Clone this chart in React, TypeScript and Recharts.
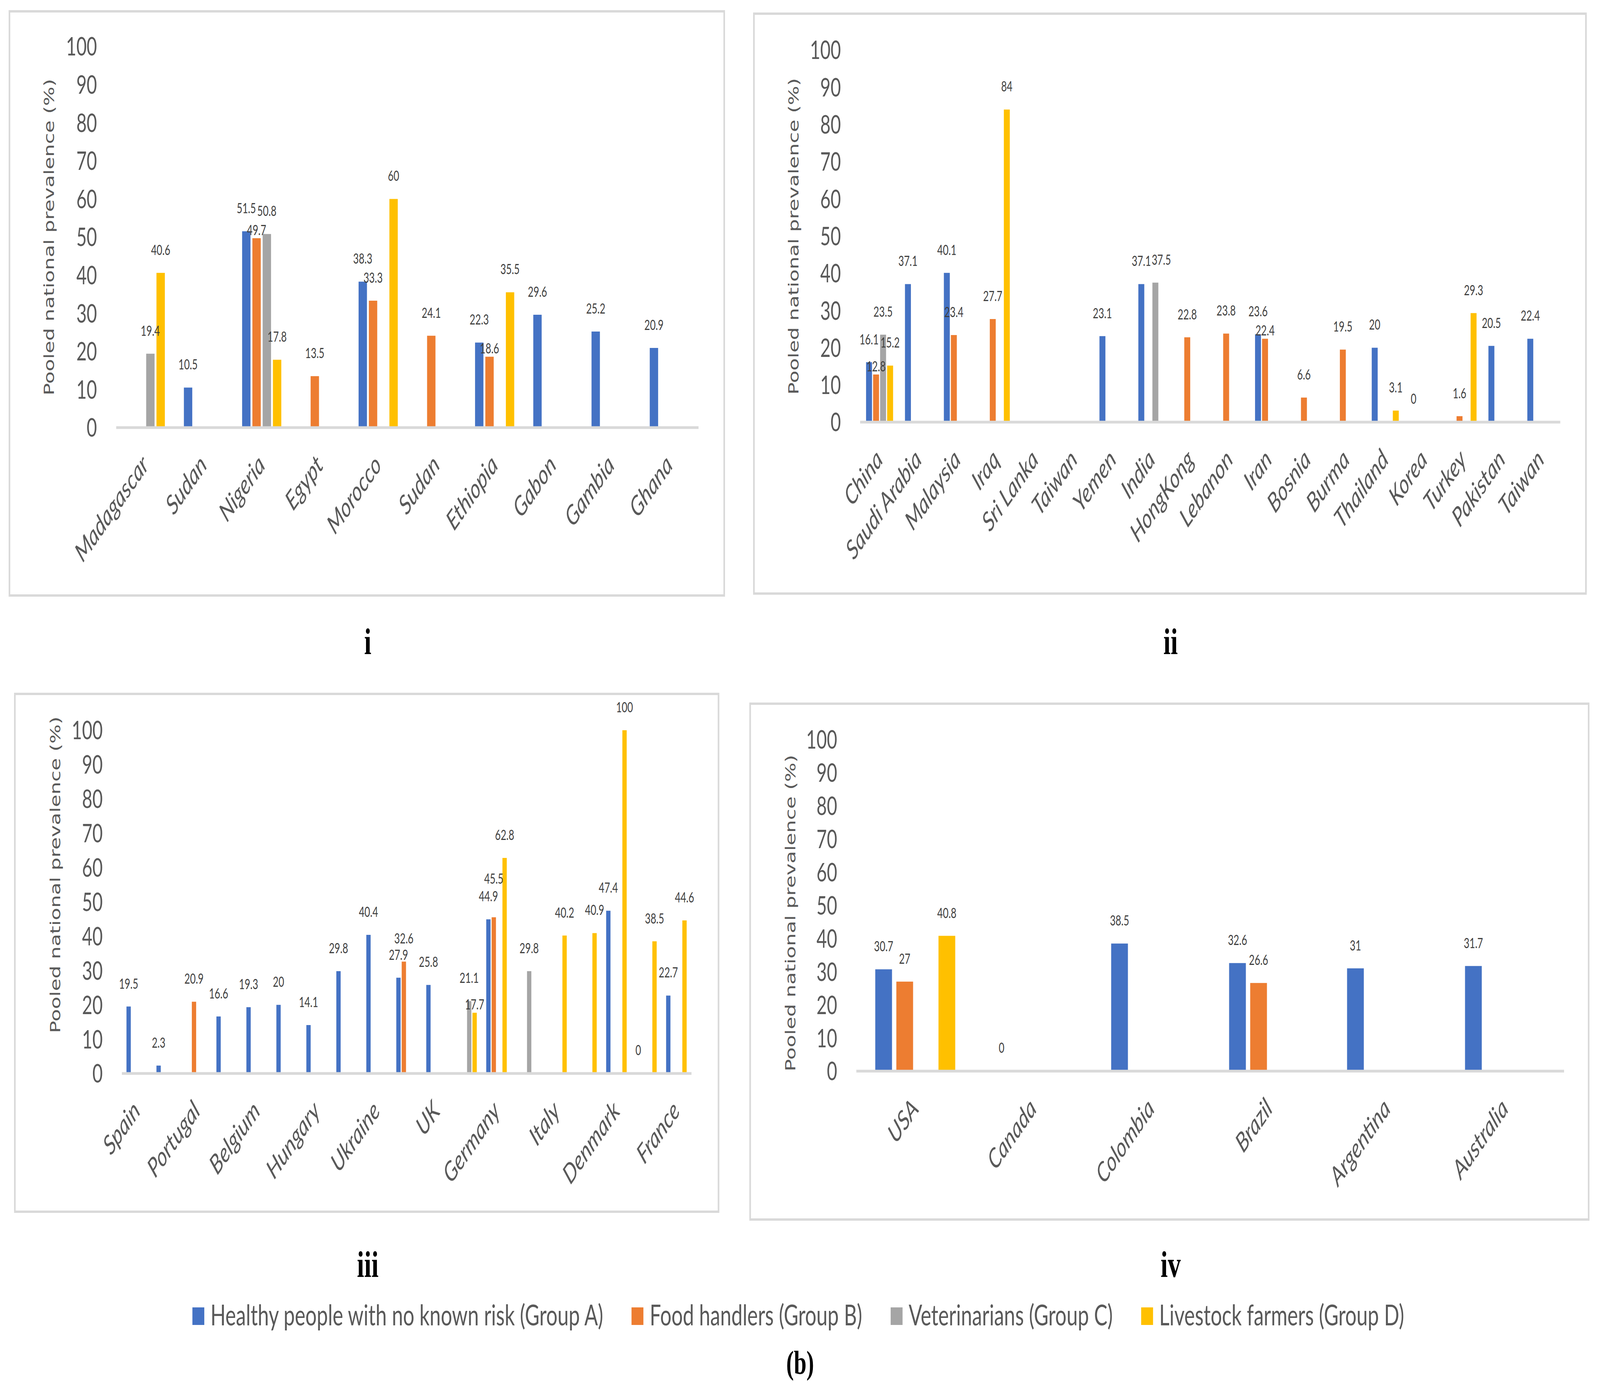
import React from 'react';
import { BarChart, Bar, XAxis, YAxis, LabelList } from 'recharts';

// ---------- shared ----------
const GROUP_NAMES = [
  'Healthy people with no known risk (Group A)',
  'Food handlers (Group B)',
  'Veterinarians (Group C)',
  'Livestock farmers (Group D)',
];
const GROUP_KEYS = ['a', 'b', 'c', 'd'];
const GROUP_COLORS = ['#4472C4', '#ED7D31', '#A5A5A5', '#FFC000'];
const Y_TICKS = [0, 10, 20, 30, 40, 50, 60, 70, 80, 90, 100];
const Y_TITLE = 'Pooled national prevalence (%)';

// ---------- panel i ----------
const P1_CATS = ['Madagascar', 'Sudan', 'Nigeria', 'Egypt', 'Morocco', 'Sudan', 'Ethiopia', 'Gabon', 'Gambia', 'Ghana'];
const P1_A = [null, 10.5, 51.5, null, 38.3, null, 22.3, 29.6, 25.2, 20.9];
const P1_B = [null, null, 49.7, 13.5, 33.3, 24.1, 18.6, null, null, null];
const P1_C = [19.4, null, 50.8, null, null, null, null, null, null, null];
const P1_D = [40.6, null, 17.8, null, 60, null, 35.5, null, null, null];

// ---------- panel ii ----------
const P2_CATS = ['China', 'Saudi Arabia', 'Malaysia', 'Iraq', 'Sri Lanka', 'Taiwan', 'Yemen', 'India', 'HongKong', 'Lebanon', 'Iran', 'Bosnia', 'Burma', 'Thailand', 'Korea', 'Turkey', 'Pakistan', 'Taiwan'];
const P2_A = [16.1, 37.1, 40.1, null, null, null, 23.1, 37.1, null, null, 23.6, null, null, 20, 0, null, 20.5, 22.4];
const P2_B = [12.8, null, 23.4, 27.7, null, null, null, null, 22.8, 23.8, 22.4, 6.6, 19.5, null, null, 1.6, null, null];
const P2_C = [23.5, null, null, null, null, null, null, 37.5, null, null, null, null, null, null, null, null, null, null];
const P2_D = [15.2, null, null, 84, null, null, null, null, null, null, null, null, null, 3.1, null, 29.3, null, null];

// ---------- panel iii ----------
const P3_CATS = ['Spain', '', 'Portugal', '', 'Belgium', '', 'Hungary', '', 'Ukraine', '', 'UK', '', 'Germany', '', 'Italy', '', 'Denmark', '', 'France'];
const P3_A = [19.5, 2.3, null, 16.6, 19.3, 20, 14.1, 29.8, 40.4, 27.9, 25.8, null, 44.9, null, null, null, 47.4, 0, 22.7];
const P3_B = [null, null, 20.9, null, null, null, null, null, null, 32.6, null, null, 45.5, null, null, null, null, null, null];
const P3_C = [null, null, null, null, null, null, null, null, null, null, null, 21.1, null, 29.8, null, null, null, null, null];
const P3_D = [null, null, null, null, null, null, null, null, null, null, null, 17.7, 62.8, null, 40.2, 40.9, 100, 38.5, 44.6];

// ---------- panel iv ----------
const P4_CATS = ['USA', 'Canada', 'Colombia', 'Brazil', 'Argentina', 'Australia'];
const P4_A = [30.7, 0, 38.5, 32.6, 31, 31.7];
const P4_B = [27, null, null, 26.6, null, null];
const P4_C = [null, null, null, null, null, null];
const P4_D = [40.8, null, null, null, null, null];

const PANEL_LABELS = ['i', 'ii', 'iii', 'iv'];
const FIGURE_LABEL = '(b)';

// ---------- layout (pixels, in a 5921 x 3557 frame) ----------
const FRAME_W = 5921;
const FRAME_H = 3557;
const GEO = [
  { left: 35, top: 29, width: 2645, height: 1496, plotLeft: 430, plotTop: 119, plotRight: 2585, baseline: 1095, barSize: 31, barGap: 7, titleX: 182, titleY: 607, labelX: 1361, labelY: 1675 },
  { left: 2790, top: 35, width: 3079, height: 1485, plotLeft: 3183, plotTop: 128, plotRight: 5774, baseline: 1081, barSize: 22, barGap: 4, titleX: 2937, titleY: 605, labelX: 4332, labelY: 1675 },
  { left: 55, top: 1777, width: 2604, height: 1326, plotLeft: 451, plotTop: 1870, plotRight: 2559, baseline: 2749, barSize: 16, barGap: 4, titleX: 205, titleY: 2240, labelX: 1361, labelY: 3270 },
  { left: 2776, top: 1802, width: 3103, height: 1321, plotLeft: 3169, plotTop: 1894, plotRight: 5788, baseline: 2743, barSize: 62, barGap: 16, titleX: 2925, titleY: 2338, labelX: 4332, labelY: 3270 },
];

const TEXT_GRAY = '#595959';
const LABEL_GRAY = '#404040';
const LABEL_FONT = 36;
const LABEL_HIGH = 60;
const LABEL_LOW = 22;
const LABEL_W = 74;
const LABEL_CLASH = 40;
const MAX_SHIFT = 40;

type Placement = { dx: number; off: number };

// choose, per bar, where its value label goes so that labels in a cluster don't collide
function labelPlacements(series: (number | null)[][], g: any): Placement[][] {
  const ppu = (g.baseline - g.plotTop) / 100;
  const spacing = g.barSize + g.barGap;
  const out: Placement[][] = series.map((s) => s.map(() => ({ dx: 0, off: LABEL_HIGH })));
  const n = series[0].length;
  for (let i = 0; i < n; i++) {
    const placed: { x: number; y: number }[] = [];
    for (let s = 0; s < series.length; s++) {
      const v = series[s][i];
      if (v === null || v === undefined) continue;
      const top = g.baseline - v * ppu;
      const bx = s * spacing;
      const clashes = (x: number, y: number) =>
        placed.filter((p) => Math.abs(p.x - x) < LABEL_W && Math.abs(p.y - y) < LABEL_CLASH);
      const cands: Placement[] = [
        { dx: 0, off: LABEL_HIGH },
        { dx: 0, off: LABEL_LOW },
      ];
      const c0 = clashes(bx, top - LABEL_HIGH);
      if (c0.length) {
        const need = Math.max(...c0.map((p) => p.x + LABEL_W - bx));
        if (need <= MAX_SHIFT) cands.push({ dx: need, off: LABEL_HIGH });
      }
      cands.push({ dx: 0, off: LABEL_HIGH + 40 });
      let chosen = cands[0];
      for (const c of cands) {
        if (clashes(bx + c.dx, top - c.off).length === 0) {
          chosen = c;
          break;
        }
      }
      out[s][i] = chosen;
      placed.push({ x: bx + chosen.dx, y: top - chosen.off });
    }
  }
  return out;
}

const makeValueLabel = (placements: Placement[], g: any, n: number) => (props: any) => {
  const { x, y, width, value } = props;
  if (value === null || value === undefined) return null;
  const cx = Number(x) + Number(width) / 2;
  if (!isFinite(cx)) return null;
  let top = Number(y);
  if (!isFinite(top)) top = g.baseline - g.top;
  const band = (g.plotRight - g.plotLeft) / n;
  const idx = Math.max(0, Math.min(n - 1, Math.floor((cx - (g.plotLeft - g.left)) / band)));
  const p = placements[idx] || { dx: 0, off: LABEL_HIGH };
  return (
    <text x={cx + p.dx} y={top - p.off} textAnchor="middle" dominantBaseline="central" fontSize={LABEL_FONT} fontFamily="Lato" fill={LABEL_GRAY}>
      {value}
    </text>
  );
};

const renderXTick = (props: any) => {
  const { x, y, payload } = props;
  if (!payload || !payload.value) return <g />;
  const tx = Number(x) + 16;
  const ty = Number(y) + 100;
  return (
    <text x={tx} y={ty} transform={`rotate(-45 ${tx} ${ty})`} textAnchor="end" fontSize={69} fontStyle="italic" fontFamily="Lato" fill={TEXT_GRAY}>
      {payload.value}
    </text>
  );
};

// a zero value still gets a (hidden, under the axis line) 1px bar so that its "0" label is drawn
const zeroMinPoint = (value: any) => (value === 0 ? 1 : 0);

function Panel({ cats, series, g }: { cats: string[]; series: (number | null)[][]; g: any }) {
  const data = cats.map((name, i) => ({
    name,
    a: series[0][i],
    b: series[1][i],
    c: series[2][i],
    d: series[3][i],
  }));
  const placements = labelPlacements(series, g);
  const YW = 300;
  const XH = 300;
  const margin = {
    top: g.plotTop - g.top,
    right: g.left + g.width - g.plotRight,
    left: g.plotLeft - g.left - YW,
    bottom: g.top + g.height - g.baseline - XH,
  };
  return (
    <>
      <div
        style={{
          position: 'absolute',
          left: g.left - 3,
          top: g.top - 3,
          width: g.width + 6,
          height: g.height + 6,
          border: '6px solid #D9D9D9',
          boxSizing: 'border-box',
        }}
      />
      <div style={{ position: 'absolute', left: g.left, top: g.top }}>
        <BarChart width={g.width} height={g.height} data={data} margin={margin} barSize={g.barSize} barGap={g.barGap}>
          <XAxis
            dataKey="name"
            interval={0}
            tickLine={false}
            tickSize={0}
            tickMargin={0}
            height={XH}
            axisLine={{ stroke: '#D9D9D9', strokeWidth: 7 }}
            tick={renderXTick}
          />
          <YAxis
            type="number"
            domain={[0, 100]}
            ticks={Y_TICKS}
            interval={0}
            width={YW}
            axisLine={false}
            tickLine={false}
            tickSize={0}
            tickMargin={71}
            tick={{ fill: TEXT_GRAY, fontSize: 66, fontFamily: 'Lato' }}
          />
          {GROUP_KEYS.map((k, i) => (
            <Bar key={k} dataKey={k} name={GROUP_NAMES[i]} fill={GROUP_COLORS[i]} minPointSize={zeroMinPoint} isAnimationActive={false}>
              <LabelList dataKey={k} content={makeValueLabel(placements[i], g, cats.length)} />
            </Bar>
          ))}
        </BarChart>
      </div>
      <div
        style={{
          position: 'absolute',
          left: g.titleX,
          top: g.titleY,
          transform: 'translate(-50%, -50%) rotate(-90deg)',
          whiteSpace: 'nowrap',
          fontFamily: 'DejaVu Sans',
          fontSize: 52,
          color: TEXT_GRAY,
          lineHeight: 1,
        }}
      >
        {Y_TITLE}
      </div>
    </>
  );
}

export default function App() {
  const panels = [
    { cats: P1_CATS, series: [P1_A, P1_B, P1_C, P1_D] },
    { cats: P2_CATS, series: [P2_A, P2_B, P2_C, P2_D] },
    { cats: P3_CATS, series: [P3_A, P3_B, P3_C, P3_D] },
    { cats: P4_CATS, series: [P4_A, P4_B, P4_C, P4_D] },
  ];
  const vw = typeof window !== 'undefined' ? window.innerWidth : FRAME_W;
  const vh = typeof window !== 'undefined' ? window.innerHeight : FRAME_H;
  const sx = Math.min(1, vw / FRAME_W);
  const sy = Math.min(1, vh / FRAME_H);
  return (
    <div style={{ position: 'absolute', left: 0, top: 0, width: FRAME_W * sx, height: FRAME_H * sy, overflow: 'hidden', background: '#fff' }}>
      <div
        style={{
          position: 'absolute',
          left: 0,
          top: 0,
          width: FRAME_W,
          height: FRAME_H,
          background: '#fff',
          transform: `scale(${sx}, ${sy})`,
          transformOrigin: '0 0',
        }}
      >
        {panels.map((p, i) => (
          <Panel key={i} cats={p.cats} series={p.series} g={GEO[i]} />
        ))}
        <svg width={FRAME_W} height={FRAME_H} style={{ position: 'absolute', left: 0, top: 0, pointerEvents: 'none' }}>
          {PANEL_LABELS.map((t, i) => (
            <text key={t} x={GEO[i].labelX} y={GEO[i].labelY} textAnchor="middle" fontFamily="Liberation Serif" fontWeight="bold" fontSize={96} fill="#000">
              {t}
            </text>
          ))}
          <text x={2961} y={3518} textAnchor="middle" fontFamily="Liberation Serif" fontWeight="bold" fontSize={84} fill="#000">
            {FIGURE_LABEL}
          </text>
        </svg>
        <div
          style={{
            position: 'absolute',
            left: 0,
            top: 3331,
            width: 5908,
            display: 'flex',
            justifyContent: 'center',
            alignItems: 'flex-start',
            gap: 105,
          }}
        >
          {GROUP_NAMES.map((n, i) => (
            <div key={n} style={{ display: 'flex', alignItems: 'flex-start' }}>
              <div style={{ width: 44, height: 45, marginTop: 17, marginRight: 23, background: GROUP_COLORS[i] }} />
              <div style={{ fontFamily: 'Lato', fontSize: 74, lineHeight: '70px', color: TEXT_GRAY, whiteSpace: 'nowrap' }}>{n}</div>
            </div>
          ))}
        </div>
      </div>
    </div>
  );
}
